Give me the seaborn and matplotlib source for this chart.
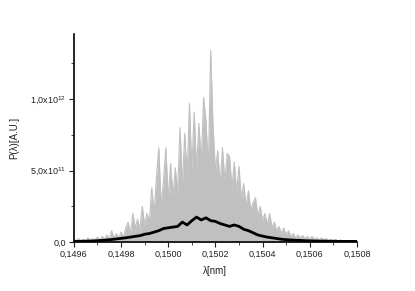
import numpy as np
import pandas as pd
import matplotlib
matplotlib.use('Agg')
import matplotlib.pyplot as plt
import matplotlib.ticker as mticker
import seaborn as sns

# spectrum values in units of 1e11, on a uniform wavelength grid 0.1496..0.1508 nm
gray_vals = [0.2, 0.1, 0.25, 0.1, 0.2, 0.1, 0.3, 0.1, 0.25, 0.15,
             0.35, 0.15, 0.4, 0.2, 0.5, 0.2, 0.8, 0.3, 0.6, 0.3,
             0.7, 0.35, 1.0, 1.4, 0.6, 2.0, 1.0, 1.6, 0.9, 2.5,
             1.2, 2.0, 1.4, 3.8, 2.0, 4.5, 6.6, 2.5, 4.3, 6.6,
             3.0, 5.5, 3.2, 5.2, 3.5, 8.0, 4.0, 7.6, 4.5, 9.7,
             5.0, 9.1, 5.0, 8.3, 5.5, 10.1, 8.5, 5.0, 13.4, 8.1,
             5.0, 6.4, 4.0, 6.6, 4.2, 6.2, 6.0, 3.8, 5.6, 3.5,
             5.3, 3.0, 4.1, 2.5, 3.6, 2.2, 2.8, 3.1, 1.8, 2.5,
             1.5, 2.0, 1.2, 2.0, 1.0, 1.4, 0.8, 1.1, 0.6, 1.0,
             0.5, 0.8, 0.4, 0.6, 0.3, 0.5, 0.3, 0.45, 0.25, 0.4,
             0.2, 0.4, 0.2, 0.3, 0.15, 0.3, 0.15, 0.25, 0.1, 0.2,
             0.1, 0.2, 0.08, 0.15, 0.08, 0.12, 0.06, 0.1, 0.05, 0.1,
             0.05]

black_vals = [0.05, 0.05, 0.06, 0.07, 0.08, 0.1, 0.12, 0.15, 0.18, 0.22,
              0.26, 0.3, 0.35, 0.4, 0.45, 0.55, 0.6, 0.7, 0.8, 0.95,
              1.0, 1.05, 1.1, 1.4, 1.2, 1.5, 1.75, 1.55, 1.7, 1.5,
              1.45, 1.3, 1.2, 1.1, 1.2, 1.1, 0.9, 0.8, 0.65, 0.5,
              0.42, 0.35, 0.3, 0.25, 0.2, 0.17, 0.15, 0.13, 0.12, 0.1,
              0.09, 0.08, 0.07, 0.07, 0.06, 0.06, 0.05, 0.05, 0.05, 0.05,
              0.05]

x_ticks = [0.1496, 0.1498, 0.1500, 0.1502, 0.1504, 0.1506, 0.1508]
x_labels = ['0,1496', '0,1498', '0,1500', '0,1502', '0,1504', '0,1506', '0,1508']
y_ticks = [0.0, 5e11, 1e12]
y_labels = ['0,0', r'5,0x10$^{11}$', r'1,0x10$^{12}$']

gray = pd.DataFrame({'lam': np.linspace(0.1496, 0.1508, len(gray_vals)),
                     'P': np.array(gray_vals) * 1e11})
black = pd.DataFrame({'lam': np.linspace(0.1496, 0.1508, len(black_vals)),
                      'P': np.array(black_vals) * 1e11})

sns.set_style('ticks')
plt.rcParams['font.family'] = ['Liberation Sans', 'DejaVu Sans']
plt.rcParams['mathtext.fontset'] = 'custom'
plt.rcParams['mathtext.rm'] = 'Liberation Sans'

fig = plt.figure(figsize=(4.15, 2.91), dpi=100)
ax = fig.add_axes([0.178, 0.168, 0.682, 0.715])

ax.fill_between(gray['lam'], 0, gray['P'], color='#c0c0c0', lw=0)
sns.lineplot(data=gray, x='lam', y='P', color='#c0c0c0', lw=0.8, ax=ax)
sns.lineplot(data=black, x='lam', y='P', color='black', lw=2.0, ax=ax)

ax.set_xlim(0.1496, 0.1508)
ax.set_ylim(0, 1.455e12)
ax.set_xticks(x_ticks)
ax.set_xticklabels(x_labels)
ax.set_yticks(y_ticks)
ax.set_yticklabels(y_labels)
ax.xaxis.set_minor_locator(mticker.MultipleLocator(0.0001))
ax.yaxis.set_minor_locator(mticker.MultipleLocator(2.5e11))
ax.tick_params(axis='both', which='major', direction='out', length=3.5, width=0.8,
               labelsize=6.5, colors='#222222', pad=2)
ax.tick_params(axis='both', which='minor', direction='out', length=2, width=0.6)

ax.set_xlabel('λ[nm]', fontsize=7, color='#222222', labelpad=5)
ax.set_ylabel('P(λ)[A.U.]', fontsize=7, color='#222222', labelpad=8)
sns.despine(ax=ax)
for s in ['left', 'bottom']:
    ax.spines[s].set_linewidth(1.2)
    ax.spines[s].set_color('black')

fig.savefig('out.png', dpi=100)
